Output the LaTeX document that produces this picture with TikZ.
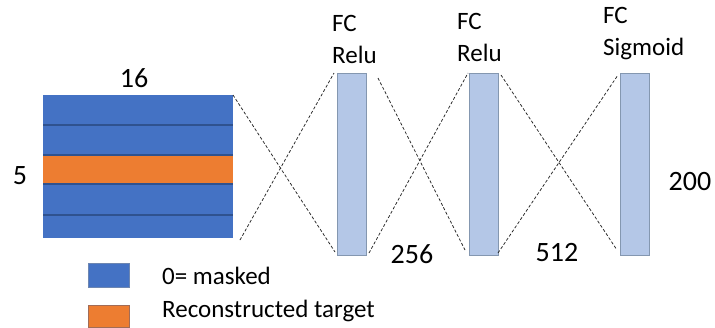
\documentclass[tikz,border=0pt]{standalone}
\usepackage{fontspec}
\setmainfont{Carlito}
\usetikzlibrary{calc}
\definecolor{maskblue}{HTML}{4472C4}
\definecolor{rowline}{HTML}{2F528F}
\definecolor{tgtorange}{HTML}{ED7D31}
\definecolor{barfill}{HTML}{B4C7E7}
\definecolor{barline}{HTML}{8497B0}
\begin{document}
\begin{tikzpicture}[x=1pt,y=-1pt,
  rowbox/.style={minimum width=190pt,inner sep=0pt,outer sep=0pt,anchor=north west},
  sep/.style={draw=rowline,line width=1.3pt},
  barbox/.style={draw=barline,fill=barfill,line width=0.8pt,minimum width=29pt,minimum height=182pt,inner sep=0pt,outer sep=0pt,anchor=north west},
  conn/.style={draw=black!85,line width=0.75pt,dash pattern=on 3pt off 2pt},
  lbl/.style={font=\fontsize{25}{32}\selectfont,inner sep=0pt,align=left,anchor=north west},
  num/.style={font=\fontsize{28}{32}\selectfont,inner sep=0pt},
  leg/.style={font=\fontsize{25}{28}\selectfont,inner sep=0pt,anchor=west}]
\useasboundingbox[fill=white] (0,0) rectangle (715,327);
% input grid
\node[rowbox,fill=maskblue,minimum height=30pt] (r1) at (43,95) {};
\node[rowbox,fill=maskblue,minimum height=30pt] (r2) at (43,125) {};
\node[rowbox,fill=tgtorange,minimum height=29pt] (r3) at (43,155) {};
\node[rowbox,fill=maskblue,minimum height=31pt] (r4) at (43,184) {};
\node[rowbox,fill=maskblue,minimum height=23pt] (r5) at (43,215) {};
\draw[sep] (r1.south west) -- (r1.south east);
\draw[sep] (r2.south west) -- (r2.south east);
\draw[sep] (r3.south west) -- (r3.south east);
\draw[sep] (r4.south west) -- (r4.south east);
% bars
\node[barbox] (b1) at (337,73) {};
\node[barbox] (b2) at (469,73) {};
\node[barbox] (b3) at (620,73) {};
% connectors
\coordinate (c1) at ($(r5.south east)+(7,2)$);
\draw[conn] (r1.north east) -- ($(b1.south west)+(-2,-3)$);
\draw[conn] (c1) -- ($(b1.north west)+(-3,0)$);
\draw[conn] ($(b1.north east)+(12,5)$) -- ($(b2.south west)+(-4,-5)$);
\draw[conn] ($(b1.south east)+(3,-2)$) -- ($(b2.north west)+(-1,0)$);
\draw[conn] ($(b2.north east)+(3,2)$) -- ($(b3.south west)+(-3,-5)$);
\draw[conn] ($(b2.south east)+(0,-2)$) -- ($(b3.north west)+(-2,2)$);
% labels
\node[lbl] (l1) at (332,15) {FC\\Relu};
\node[lbl] (l2) at (457,13) {FC\\Relu};
\node[lbl] (l3) at (603,7) {FC\\Sigmoid};
\node[num] (n16) at (134,78) {16};
\node[num] (n5) at (20,176) {5};
\node[num] (n256) at (412,254) {256};
\node[num] (n512) at (557,253) {512};
\node[num] (n200) at (690,182) {200};
% legend
\node[draw=rowline!70,fill=maskblue,minimum width=41pt,minimum height=24pt,inner sep=0pt,anchor=north west] (k1) at (88,263) {};
\node[draw=rowline!40!tgtorange,fill=tgtorange,minimum width=41pt,minimum height=22pt,inner sep=0pt,anchor=north west] (k2) at (88,305) {};
\node[leg] (t1) at (162,276) {0= masked};
\node[leg] (t2) at (162,311) {Reconstructed target};
\end{tikzpicture}
\end{document}
